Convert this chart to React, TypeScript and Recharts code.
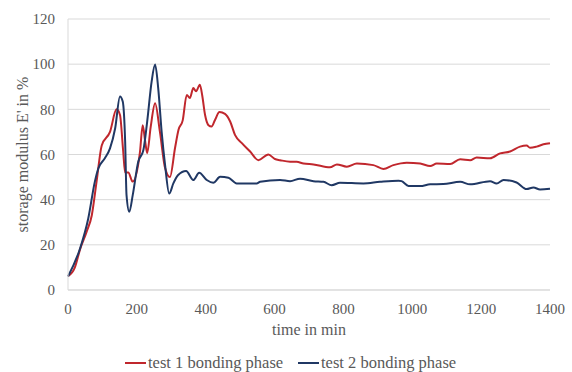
import React from "react";
import { CartesianGrid, Line, LineChart, XAxis, YAxis } from "recharts";

// time in min / storage modulus in %
const test1Time = [
    0, 20, 35, 54, 69, 83, 98, 122, 141, 151, 160, 166, 175, 188, 209, 217, 224, 230, 240, 253,
    267, 282, 296, 311, 321, 333, 345, 354, 364, 372, 383, 390, 398, 408, 417, 427, 440, 456, 471, 485,
    505, 529, 553, 582, 601, 616, 645, 664, 684, 713, 761, 781, 810, 839, 887, 916, 945, 984, 1023, 1052,
    1071, 1110, 1139, 1168, 1187, 1226, 1255, 1284, 1313, 1332, 1342, 1361, 1381, 1400,
];
const test1Value = [
    6.1, 10, 18, 25.7, 33, 48, 64, 70, 80, 77.5, 62, 52, 52, 48, 61, 73, 66, 60.6, 72, 82.7,
    70, 54, 50, 63, 71, 75, 86.4, 85, 89.4, 88, 90.9, 86, 77.6, 73, 72.4, 75.3, 78.8, 78, 74.6, 68.7,
    65, 61.3, 57.5, 60, 58, 57.5, 56.8, 56.8, 56, 55.6, 54.3, 55.6, 54.6, 56, 55.3, 53.6, 55.3, 56.4, 56, 54.9,
    56, 55.8, 57.9, 57.5, 58.7, 58.3, 60.5, 61.3, 63.5, 64, 63, 63.5, 64.5, 65,
];

const test2Time = [
    0, 35, 59, 78, 88, 107, 122, 137, 151, 159, 166, 170, 178, 188, 204, 219, 230, 243, 253, 262,
    272, 282, 294, 306, 320, 343, 364, 381, 403, 422, 442, 466, 490, 548, 558, 616, 645, 674, 713, 742,
    766, 790, 858, 906, 960, 969, 989, 1023, 1052, 1090, 1139, 1168, 1226, 1245, 1265, 1303, 1332, 1352, 1371, 1400,
];
const test2Value = [
    6, 18.4, 31.8, 48, 53.8, 58.3, 62.7, 71.6, 85.7, 83.5, 65.7, 42, 34.6, 42, 56.8, 62, 74.6, 92.4, 99.8, 89.4,
    70, 55.3, 42.7, 47.2, 50.9, 52.7, 48.7, 51.9, 48.7, 47.5, 50.1, 49.7, 47.2, 47.2, 47.9, 48.7, 48.2, 49.3, 48.2, 47.9,
    46.4, 47.5, 47.2, 47.9, 48.4, 48.2, 46.1, 46, 46.8, 46.9, 47.9, 46.8, 48.2, 47.2, 48.7, 47.6, 44.7, 45.4, 44.5, 44.8,
];

const xTicks = [0, 200, 400, 600, 800, 1000, 1200, 1400];
const yTicks = [0, 20, 40, 60, 80, 100, 120];

const RED = "#C0272D";
const BLUE = "#203864";
const TEXT = "#595959";
const FONT = "'Liberation Serif', 'Times New Roman', serif";

const test1 = test1Time.map((t, i) => ({ t, v: test1Value[i] }));
const test2 = test2Time.map((t, i) => ({ t, v: test2Value[i] }));

const tickStyle = { fill: TEXT, fontSize: 15, fontFamily: FONT, style: { fontFamily: FONT } };

export default function App() {
    return (
        <div style={{ position: "absolute", left: 0, top: 0, width: 572, height: 372, background: "#fff", fontFamily: FONT }}>
            <style>{`.recharts-wrapper svg text { font-family: 'Liberation Serif', 'Times New Roman', serif; }`}</style>
            <LineChart width={572} height={372} margin={{ top: 19, right: 22, bottom: 32, left: 0 }}>
                <CartesianGrid vertical={false} stroke="#D9D9D9" />
                <XAxis
                    type="number"
                    dataKey="t"
                    domain={[0, 1400]}
                    ticks={xTicks}
                    height={50}
                    stroke="#D9D9D9"
                    tickLine={false}
                    tickSize={6}
                    tickMargin={7}
                    tick={tickStyle}
                    label={{ value: "time in min", position: "insideBottom", offset: 5, fill: TEXT, fontSize: 16, fontFamily: FONT }}
                />
                <YAxis
                    type="number"
                    domain={[0, 120]}
                    ticks={yTicks}
                    width={68}
                    stroke="#D9D9D9"
                    tickLine={false}
                    tickSize={6}
                    tickMargin={7}
                    tick={tickStyle}
                    label={{
                        value: "storage modulus E' in %",
                        angle: -90,
                        position: "insideLeft",
                        offset: 22,
                        fill: TEXT,
                        fontSize: 16,
                        fontFamily: FONT,
                        style: { textAnchor: "middle" },
                    }}
                />
                <Line data={test1} dataKey="v" type="monotone" stroke={RED} strokeWidth={2} dot={false} isAnimationActive={false} />
                <Line data={test2} dataKey="v" type="monotone" stroke={BLUE} strokeWidth={2} dot={false} isAnimationActive={false} />
            </LineChart>
            {[
                { name: "test 1 bonding phase", color: RED, left: 125 },
                { name: "test 2 bonding phase", color: BLUE, left: 298 },
            ].map((item) => (
                <div
                    key={item.name}
                    style={{ position: "absolute", left: item.left, top: 353, display: "flex", alignItems: "center", color: TEXT, fontSize: 16.5, lineHeight: "19px" }}
                >
                    <span style={{ display: "inline-block", width: 21, height: 2, background: item.color, marginRight: 2 }} />
                    <span>{item.name}</span>
                </div>
            ))}
        </div>
    );
}
